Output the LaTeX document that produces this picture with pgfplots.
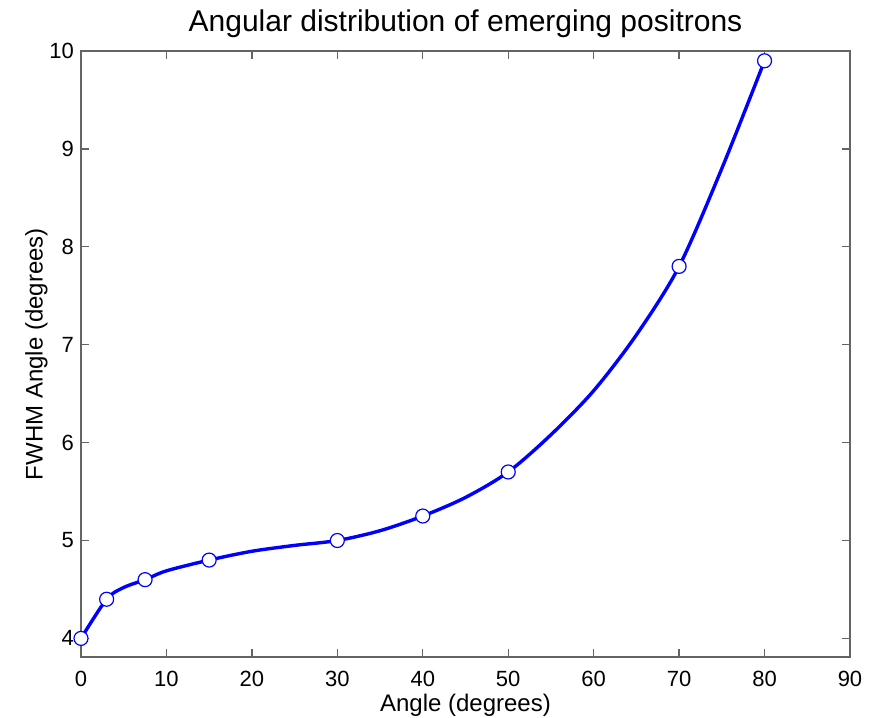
\documentclass[border=0pt]{standalone}
\usepackage{fontspec}
\setmainfont{Liberation Sans}
\usepackage{pgfplots}
\pgfplotsset{compat=1.18}
\usetikzlibrary{calc}
\definecolor{axgray}{RGB}{100,100,100}
\begin{document}
\begin{tikzpicture}
\begin{axis}[
  scale only axis,
  width=384.5pt, height=303pt,
  xmin=0, xmax=90, ymin=3.81, ymax=10,
  xtick={0,10,...,90}, ytick={4,5,...,10},
  tick align=inside, major tick length=4pt,
  axis line style={axgray, line width=0.7pt},
  every tick/.style={axgray, line width=0.7pt},
  tick label style={font=\fontsize{11}{13}\selectfont, black},
  /pgf/number format/assume math mode=true,
  xticklabel style={yshift=-3.5pt},
  title={Angular distribution of emerging positrons},
  title style={font=\fontsize{15}{17}\selectfont, yshift=-3pt},
  xlabel={Angle (degrees)},
  ylabel={FWHM Angle (degrees)},
  label style={font=\fontsize{12}{14}\selectfont},
  xlabel style={yshift=3pt},
  ylabel style={yshift=-6pt},
]
% fitted curve
\addplot[blue, line width=1.7pt, smooth, tension=0.5]
  coordinates {(0,4) (3,4.4) (5,4.52) (7.5,4.6) (10,4.69) (15,4.8) (20,4.89) (25,4.95) (30,5.0) (35,5.1) (40,5.25) (45,5.44) (50,5.7) (55,6.08) (60,6.53) (65,7.1) (70,7.8) (75,8.8) (80,9.9)};
% measured points
\addplot[only marks, mark=*, mark size=3.5pt,
  mark options={fill=white, draw=blue, line width=0.6pt}]
  coordinates {(0,4) (3,4.4) (7.5,4.6) (15,4.8) (30,5.0) (40,5.25) (50,5.7) (70,7.8) (80,9.9)};
\end{axis}
\pgfresetboundingbox
\useasboundingbox ($(current axis.south west)+(-40.5pt,-30pt)$) rectangle ($(current axis.north east)+(16pt,25.5pt)$);
\end{tikzpicture}
\end{document}
